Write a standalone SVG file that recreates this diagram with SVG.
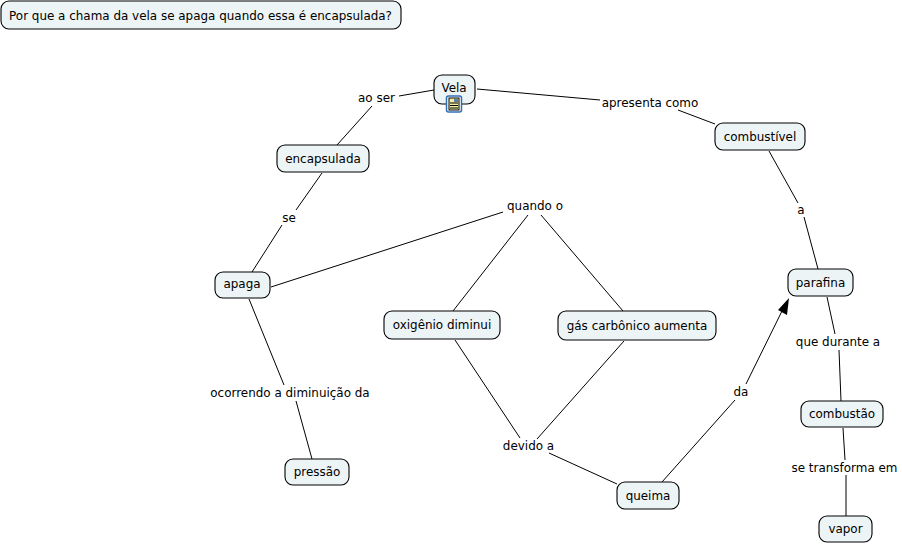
<svg xmlns="http://www.w3.org/2000/svg" width="902" height="544" viewBox="0 0 902 544">
<style>
.n rect{fill:#edf4f6;stroke:#000;stroke-width:1.1}
text{font-family:"DejaVu Sans",Verdana,sans-serif;font-size:11.950px;fill:#000;text-anchor:middle}
#c line{stroke:#000;stroke-width:1}
</style>
<rect width="902" height="544" fill="#fff"/>
<g id="c">
<line x1="434" y1="90" x2="399" y2="96"/>
<line x1="372" y1="106" x2="337" y2="145"/>
<line x1="477" y1="89" x2="600" y2="100"/>
<line x1="678" y1="110" x2="715" y2="124"/>
<line x1="769" y1="151" x2="798" y2="203"/>
<line x1="804" y1="217" x2="818" y2="269"/>
<line x1="322" y1="173" x2="296" y2="210"/>
<line x1="282" y1="225" x2="252" y2="272"/>
<line x1="271" y1="287" x2="503" y2="212"/>
<line x1="528" y1="215" x2="453" y2="311"/>
<line x1="541" y1="215" x2="623" y2="311"/>
<line x1="249" y1="299" x2="284" y2="385"/>
<line x1="296" y1="401" x2="312" y2="459"/>
<line x1="455" y1="340" x2="520" y2="438"/>
<line x1="624" y1="341" x2="537" y2="439"/>
<line x1="549" y1="453" x2="617" y2="484"/>
<line x1="662" y1="482" x2="735" y2="400"/>
<line x1="746" y1="384" x2="783" y2="309"/>
<line x1="827" y1="297" x2="835" y2="334"/>
<line x1="839" y1="350" x2="841" y2="401"/>
<line x1="843" y1="428" x2="845" y2="460"/>
<line x1="846" y1="475" x2="846" y2="516"/>
<polygon points="789,298 778,310 787,315" fill="#000"/>
</g>
<g id="title" class="n"><rect x="1" y="1" width="400" height="28" rx="8"/><text x="200.500" y="19.500">Por que a chama da vela se apaga quando essa é encapsulada?</text></g>
<g id="vela" class="n"><rect x="434" y="75" width="41" height="29" rx="8"/><text x="454" y="92">Vela</text>
<rect x="446.500" y="96" width="15" height="16" rx="2" style="fill:#fff;stroke:#2f6fb5;stroke-width:1.500"/>
<rect x="449" y="98" width="10" height="12" style="fill:#f3eda6;stroke:#000;stroke-width:1"/>
<line x1="450" y1="103" x2="458" y2="103" stroke="#000"/><line x1="450" y1="105.500" x2="458" y2="105.500" stroke="#000"/><line x1="450" y1="108" x2="458" y2="108" stroke="#000"/>
<rect x="454" y="99" width="4" height="3" style="fill:#5a7fb0;stroke:none"/></g>
<g id="encapsulada" class="n"><rect x="277" y="145" width="92" height="27" rx="8"/><text x="323" y="162.500">encapsulada</text></g>
<g id="apaga" class="n"><rect x="215" y="272" width="55" height="26" rx="8"/><text x="242" y="288">apaga</text></g>
<g id="combustivel" class="n"><rect x="715" y="123" width="90" height="27" rx="8"/><text x="760" y="141">combustível</text></g>
<g id="parafina" class="n"><rect x="788" y="269" width="65" height="27" rx="8"/><text x="820.500" y="287">parafina</text></g>
<g id="oxigenio" class="n"><rect x="384" y="311" width="116" height="28" rx="8"/><text x="442" y="329">oxigênio diminui</text></g>
<g id="gas" class="n"><rect x="558" y="311" width="158" height="29" rx="8"/><text x="637" y="329.500">gás carbônico aumenta</text></g>
<g id="pressao" class="n"><rect x="285" y="459" width="64" height="26" rx="8"/><text x="317" y="476">pressão</text></g>
<g id="combustao" class="n"><rect x="801" y="401" width="82" height="26" rx="8"/><text x="842" y="418">combustão</text></g>
<g id="queima" class="n"><rect x="617" y="482" width="62" height="27" rx="8"/><text x="648" y="499.500">queima</text></g>
<g id="vapor" class="n"><rect x="819" y="516" width="53" height="26" rx="8"/><text x="845.500" y="533">vapor</text></g>
<g id="labels">
<text x="376.500" y="102">ao ser</text>
<text x="650" y="107">apresenta como</text>
<text x="801" y="214">a</text>
<text x="289" y="222">se</text>
<text x="535" y="210">quando o</text>
<text x="290" y="397">ocorrendo a diminuição da</text>
<text x="528.500" y="450">devido a</text>
<text x="741" y="396">da</text>
<text x="838" y="346">que durante a</text>
<text x="844.500" y="472">se transforma em</text>
</g>
</svg>
